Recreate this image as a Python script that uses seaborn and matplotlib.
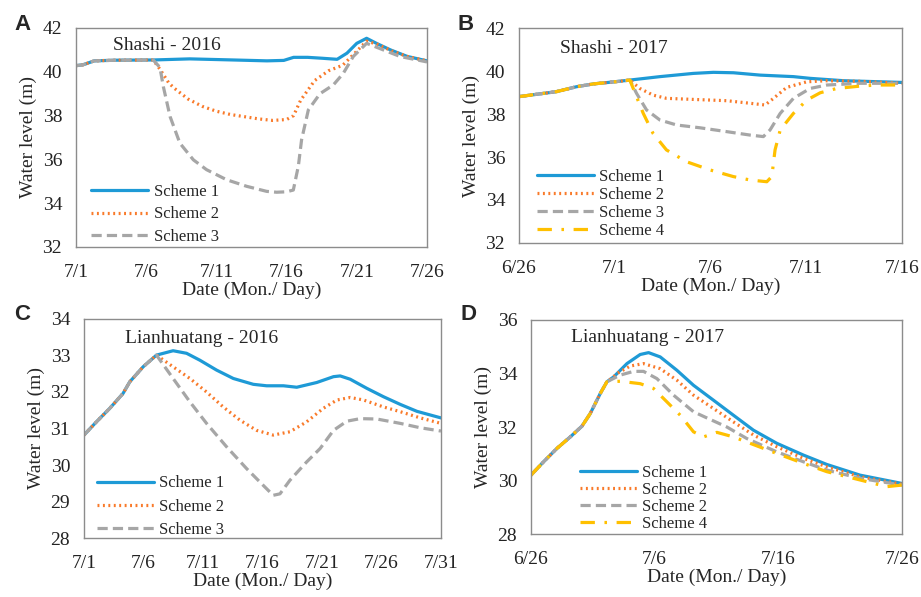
import matplotlib
matplotlib.use("Agg")
import matplotlib.pyplot as plt
import seaborn as sns

sns.set_style("white")
plt.rcParams["font.family"] = ["Liberation Serif", "DejaVu Serif"]

# ---- panel A: Shashi 2016 (day 0 = 7/1) ----
a_s1_day = [0, 0.5, 1.3, 2.9, 5.5, 8.1, 11.2, 13.6, 14.8, 15.5, 16.5, 17.5, 18.6, 19.3, 20.0, 20.7, 21.4, 22.4, 23.6, 25]
a_s1_lvl = [40.28, 40.32, 40.5, 40.53, 40.54, 40.59, 40.54, 40.5, 40.52, 40.66, 40.66, 40.62, 40.57, 40.85, 41.3, 41.53, 41.3, 41.0, 40.7, 40.5]
a_s2_day = [0, 0.5, 1.3, 2.9, 5.5, 6.0, 6.6, 7.0, 8.0, 9.0, 10.0, 11.0, 12.0, 13.0, 14.0, 15.0, 15.5, 16.0, 17.0, 18.0, 19.0, 19.7, 20.7, 21.5, 22.5, 23.6, 25]
a_s2_lvl = [40.28, 40.32, 40.5, 40.53, 40.54, 40.1, 39.5, 39.25, 38.75, 38.42, 38.2, 38.05, 37.95, 37.85, 37.78, 37.82, 38.0, 38.7, 39.6, 40.05, 40.3, 40.75, 41.4, 41.25, 40.95, 40.7, 40.5]
a_s3_day = [0, 0.5, 1.3, 2.9, 5.5, 5.98, 6.22, 6.7, 7.4, 8.36, 9.3, 10.73, 12.16, 13.58, 14.29, 15.0, 15.48, 15.84, 16.07, 16.55, 17.38, 18.33, 19.04, 19.75, 20.7, 21.89, 23.08, 25]
a_s3_lvl = [40.28, 40.32, 40.5, 40.53, 40.54, 40.2, 39.33, 37.96, 36.74, 35.98, 35.53, 35.07, 34.77, 34.54, 34.5, 34.52, 34.6, 35.7, 36.9, 38.26, 39.0, 39.4, 39.93, 40.7, 41.3, 41.0, 40.7, 40.45]

# ---- panel B: Shashi 2017 (day 0 = 6/26) ----
b_s1_day = [0, 1.95, 3, 3.87, 5.0, 5.79, 7.36, 9.1, 10.15, 11.2, 12.6, 14.33, 15.2, 16.95, 20]
b_s1_lvl = [38.81, 39.04, 39.27, 39.4, 39.5, 39.58, 39.74, 39.89, 39.94, 39.92, 39.81, 39.74, 39.66, 39.55, 39.47]
b_s2_day = [0, 1.95, 3, 3.87, 5.0, 5.79, 6.31, 7.0, 7.7, 9.1, 10.85, 12.07, 12.85, 13.29, 13.98, 15.03, 16.08, 17.82, 20]
b_s2_lvl = [38.81, 39.04, 39.27, 39.4, 39.5, 39.58, 39.19, 38.88, 38.73, 38.68, 38.62, 38.5, 38.42, 38.73, 39.24, 39.5, 39.55, 39.52, 39.43]
b_s3_day = [0, 1.95, 3, 3.87, 5.0, 5.79, 6.14, 6.66, 7.36, 8.23, 9.45, 10.85, 12.07, 12.76, 13.11, 13.64, 14.33, 15.2, 16.08, 17.82, 20]
b_s3_lvl = [38.81, 39.04, 39.27, 39.4, 39.5, 39.58, 38.96, 38.19, 37.72, 37.49, 37.36, 37.18, 37.02, 36.95, 37.26, 38.03, 38.73, 39.19, 39.35, 39.43, 39.43]
b_s4_day = [0, 1.95, 3, 3.87, 5.0, 5.79, 6.14, 6.49, 7.0, 7.7, 8.75, 9.97, 11.19, 12.07, 12.94, 13.2, 13.37, 13.64, 14.33, 15.03, 15.73, 16.6, 17.82, 18.69, 20]
b_s4_lvl = [38.81, 39.04, 39.27, 39.4, 39.5, 39.58, 38.8, 38.03, 37.1, 36.33, 35.78, 35.4, 35.09, 34.93, 34.85, 35.09, 36.33, 37.26, 38.03, 38.65, 38.99, 39.19, 39.3, 39.35, 39.35]

# ---- panel C: Lianhuatang 2016 (day 0 = 7/1) ----
c_s1_day = [0, 1.04, 2.16, 3.28, 3.85, 4.97, 6.09, 7.49, 8.62, 9.74, 11.14, 12.55, 14.23, 15.35, 16.76, 17.88, 19.56, 20.97, 21.53, 22.37, 23.77, 25.17, 26.58, 27.98, 30]
c_s1_lvl = [30.82, 31.18, 31.55, 31.96, 32.28, 32.69, 33.01, 33.13, 33.06, 32.87, 32.6, 32.37, 32.21, 32.17, 32.17, 32.13, 32.26, 32.42, 32.44, 32.35, 32.1, 31.87, 31.66, 31.47, 31.29]
c_s2_day = [0, 1.04, 2.16, 3.28, 3.85, 4.97, 6.09, 7.49, 8.9, 10.3, 11.7, 13.1, 14.5, 15.9, 17.3, 18.7, 20.1, 21.25, 22.37, 23.5, 25.17, 26.58, 28.26, 30]
c_s2_lvl = [30.82, 31.18, 31.55, 31.96, 32.28, 32.69, 33.01, 32.69, 32.37, 32.0, 31.59, 31.23, 30.95, 30.82, 30.91, 31.18, 31.55, 31.78, 31.85, 31.78, 31.59, 31.46, 31.29, 31.14]
c_s3_day = [0, 1.04, 2.16, 3.28, 3.85, 4.97, 6.09, 7.49, 8.9, 10.3, 11.98, 13.67, 15.07, 15.9, 16.47, 17.3, 18.7, 19.84, 20.97, 22.09, 23.21, 24.61, 26.58, 28.26, 30]
c_s3_lvl = [30.82, 31.18, 31.55, 31.96, 32.28, 32.69, 33.01, 32.37, 31.73, 31.14, 30.5, 29.9, 29.44, 29.17, 29.21, 29.58, 30.08, 30.45, 30.95, 31.2, 31.27, 31.26, 31.14, 31.02, 30.93]

# ---- panel D: Lianhuatang 2017 (day 0 = 6/26) ----
d_s1_day = [0, 1.02, 2.1, 3.18, 4.12, 4.79, 5.6, 6.14, 6.68, 7.76, 8.83, 9.51, 10.45, 11.8, 13.14, 14.76, 16.37, 17.99, 19.88, 22.03, 23.92, 26.61, 30]
d_s1_lvl = [30.2, 30.7, 31.2, 31.63, 32.03, 32.5, 33.25, 33.69, 33.87, 34.37, 34.71, 34.78, 34.62, 34.12, 33.56, 33.0, 32.44, 31.88, 31.39, 30.95, 30.6, 30.2, 29.89]
d_s2_day = [0, 1.02, 2.1, 3.18, 4.12, 4.79, 5.6, 6.14, 6.68, 6.95, 8.03, 9.1, 10.45, 11.8, 13.14, 14.76, 16.37, 17.99, 19.88, 22.03, 23.92, 26.61, 30]
d_s2_lvl = [30.2, 30.7, 31.2, 31.63, 32.03, 32.5, 33.25, 33.69, 33.87, 34.0, 34.28, 34.37, 34.18, 33.75, 33.19, 32.69, 32.19, 31.7, 31.26, 30.83, 30.51, 30.14, 29.86]
d_s3_day = [0, 1.02, 2.1, 3.18, 4.12, 4.79, 5.6, 6.14, 7.22, 8.3, 9.1, 10.18, 11.53, 13.14, 14.22, 15.84, 17.45, 19.88, 22.03, 23.92, 26.61, 30]
d_s3_lvl = [30.2, 30.7, 31.2, 31.63, 32.03, 32.5, 33.25, 33.69, 33.94, 34.08, 34.08, 33.81, 33.19, 32.57, 32.34, 32.0, 31.57, 31.07, 30.7, 30.39, 30.08, 29.83]
d_s4_day = [0, 1.02, 2.1, 3.18, 4.12, 4.79, 5.6, 6.14, 7.22, 8.83, 9.91, 10.99, 12.07, 13.14, 13.95, 15.03, 16.37, 17.72, 19.88, 22.03, 23.92, 26.61, 28.76, 30]
d_s4_lvl = [30.2, 30.7, 31.2, 31.63, 32.03, 32.5, 33.25, 33.69, 33.71, 33.62, 33.44, 32.94, 32.44, 31.82, 31.63, 31.8, 31.63, 31.39, 31.01, 30.64, 30.33, 30.02, 29.77, 29.83]

a_ticks = ["7/1", "7/6", "7/11", "7/16", "7/21", "7/26"]
b_ticks = ["6/26", "7/1", "7/6", "7/11", "7/16"]
c_ticks = ["7/1", "7/6", "7/11", "7/16", "7/21", "7/26", "7/31"]
d_ticks = ["6/26", "7/6", "7/16", "7/26"]

BLUE, ORANGE, GREY, GOLD = "#1e9ad6", "#f97a2a", "#a6a6a6", "#ffc000"
styles = {
    "s1": dict(color=BLUE, linestyle="-"),
    "s2": dict(color=ORANGE, linestyle=(0, (0.6, 1.1))),
    "s3": dict(color=GREY, linestyle=(0, (3.2, 1.6))),
    "s4": dict(color=GOLD, linestyle=(0, (4.5, 3, 0.8, 3))),
}

fig = plt.figure(figsize=(9.21, 5.97), dpi=100)


def panel(rect, series, xmax, xstep, labels, ylim, ystep, title, tpos, leg_anchor, leg_space, letter, lpos):
    ax = fig.add_axes(rect)
    for day, lvl, key, name in series:
        sns.lineplot(x=day, y=lvl, ax=ax, label=name, linewidth=2.3,
                     estimator=None, sort=False, **styles[key])
    ax.set_xlim(0, xmax)
    ax.set_ylim(*ylim)
    ax.set_xticks(range(0, xmax + 1, xstep))
    ax.set_xticklabels(labels)
    ax.set_yticks(range(ylim[0], ylim[1] + 1, ystep))
    ax.tick_params(axis="both", labelsize=14, length=0, colors="#222222")
    ax.tick_params(axis="x", pad=12)
    ax.tick_params(axis="y", pad=10)
    for sp in ax.spines.values():
        sp.set_color("#8c8c8c")
        sp.set_linewidth(1.0)
    ax.set_xlabel("Date (Mon./ Day)", fontsize=14, labelpad=1)
    ax.set_ylabel("Water level (m)", fontsize=14, labelpad=4)
    ax.text(tpos[0], tpos[1], title, transform=ax.transAxes, fontsize=14,
            ha="center", va="center")
    ax.legend(loc="lower left", bbox_to_anchor=leg_anchor, frameon=False,
              fontsize=12, handlelength=3.4, handletextpad=0.35,
              labelspacing=leg_space, borderpad=0, borderaxespad=0)
    fig.text(lpos[0], lpos[1], letter, fontsize=16, fontweight="bold",
             family=["Liberation Sans", "DejaVu Sans"], ha="center", va="center")
    return ax


panel([0.0825, 0.5863, 0.3811, 0.3668],
      [(a_s1_day, a_s1_lvl, "s1", "Scheme 1"),
       (a_s2_day, a_s2_lvl, "s2", "Scheme 2"),
       (a_s3_day, a_s3_lvl, "s3", "Scheme 3")],
      25, 5, a_ticks, (32, 42), 2, "Shashi - 2016", (0.259, 0.918),
      (0.043, 0.01), 0.38, "A", (22 / 921, 1 - 25 / 597))

panel([0.5635, 0.593, 0.4159, 0.360],
      [(b_s1_day, b_s1_lvl, "s1", "Scheme 1"),
       (b_s2_day, b_s2_lvl, "s2", "Scheme 2"),
       (b_s3_day, b_s3_lvl, "s3", "Scheme 3"),
       (b_s4_day, b_s4_lvl, "s4", "Scheme 4")],
      20, 5, b_ticks, (32, 42), 2, "Shashi - 2017", (0.249, 0.907),
      (0.047, 0.02), 0.12, "B", (466 / 921, 1 - 25 / 597))

panel([0.0912, 0.0988, 0.3876, 0.3669],
      [(c_s1_day, c_s1_lvl, "s1", "Scheme 1"),
       (c_s2_day, c_s2_lvl, "s2", "Scheme 2"),
       (c_s3_day, c_s3_lvl, "s3", "Scheme 3")],
      30, 5, c_ticks, (28, 34), 1, "Lianhuatang - 2016", (0.328, 0.913),
      (0.036, 0.0), 0.44, "C", (22 / 921, 1 - 315 / 597))

panel([0.5765, 0.1055, 0.4029, 0.3585],
      [(d_s1_day, d_s1_lvl, "s1", "Scheme 1"),
       (d_s2_day, d_s2_lvl, "s2", "Scheme 2"),
       (d_s3_day, d_s3_lvl, "s3", "Scheme 2"),
       (d_s4_day, d_s4_lvl, "s4", "Scheme 4")],
      30, 10, d_ticks, (28, 36), 2, "Lianhuatang - 2017", (0.313, 0.92),
      (0.132, 0.01), 0.06, "D", (468 / 921, 1 - 315 / 597))

fig.savefig("out.png", dpi=100)
